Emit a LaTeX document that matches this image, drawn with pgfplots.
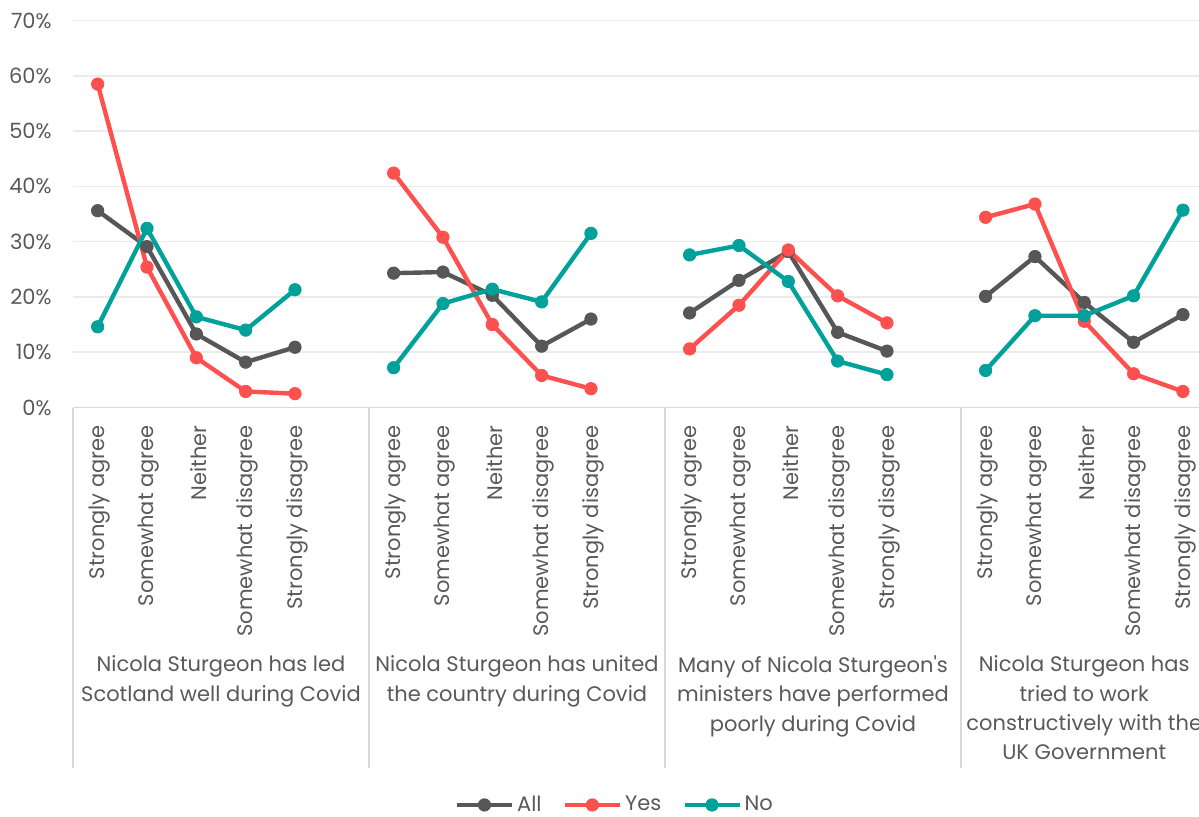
\documentclass[border=0pt]{standalone}
\usepackage{fontspec}
\setmainfont{Poppins}
\usepackage{pgfplots}
\pgfplotsset{compat=1.18}
\definecolor{cAll}{HTML}{575757}
\definecolor{cYes}{HTML}{FF5050}
\definecolor{cNo}{HTML}{00A19A}
\definecolor{txt}{HTML}{595959}
\definecolor{gridc}{HTML}{EBEBEB}
\definecolor{sepc}{HTML}{D9D9D9}
\newcommand{\lblfont}{\fontsize{10.5}{14.65}\selectfont}
\begin{document}
\begin{tikzpicture}
\path[use as bounding box] (0,0) rectangle (599.5pt,-408.5pt);
\begin{axis}[
  at={(36.5pt,-203.75pt)}, anchor=south west,
  scale only axis, width=567.3pt, height=193.5pt,
  xmin=-0.5, xmax=22.5, ymin=0, ymax=70,
  ytick={0,10,...,70},
  yticklabel={\pgfmathprintnumber{\tick}\%},
  /pgf/number format/assume math mode=true,
  ymajorgrids, grid style={gridc, line width=0.75pt},
  axis line style={draw=none},
  major tick length=0pt,
  xtick={0,1,2,3,4,6,7,8,9,10,12,13,14,15,16,18,19,20,21,22},
  xticklabels={Strongly agree,Somewhat agree,Neither,Somewhat disagree,Strongly disagree,
               Strongly agree,Somewhat agree,Neither,Somewhat disagree,Strongly disagree,
               Strongly agree,Somewhat agree,Neither,Somewhat disagree,Strongly disagree,
               Strongly agree,Somewhat agree,Neither,Somewhat disagree,Strongly disagree},
  tick label style={font=\lblfont, text=txt},
  xticklabel style={xshift=1pt, rotate=90, anchor=east, inner sep=0pt},
  xticklabel shift=8.75pt,
  yticklabel style={anchor=east, inner sep=0pt},
  yticklabel shift=10.5pt,
  clip=false,
  unbounded coords=jump,
  legend columns=3,
  legend style={at={(0.478,-1.027)}, anchor=center, draw=none, fill=none,
    font=\lblfont, text=txt, inner sep=0pt,
    nodes={inner sep=1.5pt},
    /tikz/every even column/.append style={column sep=9pt}},
  legend image code/.code={\draw[mark repeat=2,mark phase=2] plot coordinates {(0pt,0pt) (13.75pt,0pt) (27.5pt,0pt)};},
  every axis plot/.append style={line width=2.2pt, mark=*, mark size=3.1pt, mark options={solid, line width=0.4pt}},
]
\draw[sepc, line width=0.75pt] (rel axis cs:0,0) -- (rel axis cs:1,0);
\draw[sepc, line width=0.75pt] (axis cs:-0.5,0) -- ++(0pt,-180.25pt);
\draw[sepc, line width=0.75pt] (axis cs:5.5,0) -- ++(0pt,-180.25pt);
\draw[sepc, line width=0.75pt] (axis cs:11.5,0) -- ++(0pt,-180.25pt);
\draw[sepc, line width=0.75pt] (axis cs:17.5,0) -- ++(0pt,-180.25pt);

\addplot[cAll] coordinates {
 (0,35.6) (1,29.1) (2,13.3) (3,8.2) (4,10.9) (5,nan)
 (6,24.3) (7,24.5) (8,20.3) (9,11.1) (10,16.0) (11,nan)
 (12,17.1) (13,23.0) (14,28.2) (15,13.6) (16,10.2) (17,nan)
 (18,20.1) (19,27.3) (20,19.0) (21,11.8) (22,16.8)};
\addlegendentry{All}
\addplot[cYes] coordinates {
 (0,58.5) (1,25.4) (2,9.0) (3,2.9) (4,2.5) (5,nan)
 (6,42.4) (7,30.8) (8,15.0) (9,5.8) (10,3.4) (11,nan)
 (12,10.6) (13,18.5) (14,28.5) (15,20.2) (16,15.3) (17,nan)
 (18,34.4) (19,36.8) (20,15.6) (21,6.1) (22,2.9)};
\addlegendentry{Yes}
\addplot[cNo] coordinates {
 (0,14.6) (1,32.4) (2,16.4) (3,14.0) (4,21.3) (5,nan)
 (6,7.2) (7,18.8) (8,21.4) (9,19.1) (10,31.5) (11,nan)
 (12,27.6) (13,29.3) (14,22.8) (15,8.4) (16,5.95) (17,nan)
 (18,6.7) (19,16.6) (20,16.6) (21,20.2) (22,35.7)};
\addlegendentry{No}

\node[anchor=north, align=center, font=\lblfont, text=txt, inner sep=0pt, yshift=-124pt] at (axis cs:2.5,0) {Nicola Sturgeon has led\\Scotland well during Covid};
\node[anchor=north, align=center, font=\lblfont, text=txt, inner sep=0pt, yshift=-124pt] at (axis cs:8.5,0) {Nicola Sturgeon has united\\the country during Covid};
\node[anchor=north, align=center, font=\lblfont, text=txt, inner sep=0pt, yshift=-124pt] at (axis cs:14.5,0) {Many of Nicola Sturgeon\textquotesingle s\\ministers have performed\\poorly during Covid};
\node[anchor=north, align=center, font=\lblfont, text=txt, inner sep=0pt, yshift=-124pt] at (axis cs:20,0) {Nicola Sturgeon has\\tried to work\\constructively with the\\UK Government};
\end{axis}
\end{tikzpicture}
\end{document}
